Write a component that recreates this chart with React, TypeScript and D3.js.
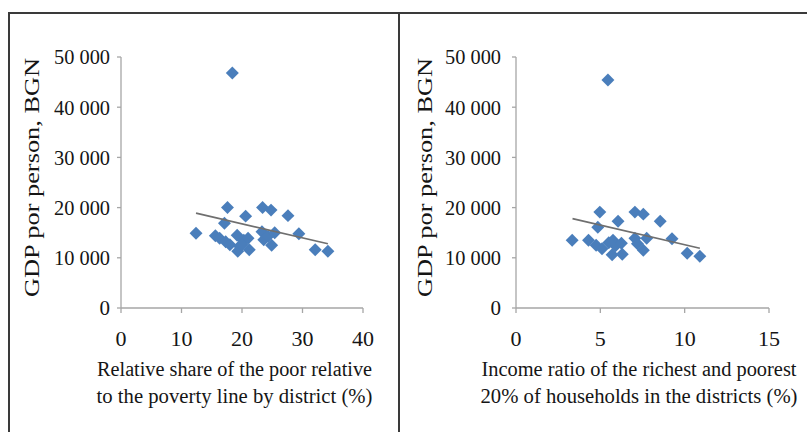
import React from "react";
import * as d3 from "d3";

const W = 807;
const H = 432;

// Left panel: share of the poor (%) vs GDP per person (BGN)
const povertyShare = [18.4, 12.4, 15.6, 16.3, 17.1, 17.6, 17.3, 18.0, 19.2, 19.6, 19.3, 20.3, 20.6, 21.0, 21.2, 23.4, 24.8, 23.3, 23.6, 24.3, 25.4, 24.9, 27.6, 29.4, 32.1, 34.2, 20.0];
const gdpByShare = [46800, 14900, 14400, 13900, 16900, 20000, 13200, 12600, 14500, 12300, 11300, 13500, 18300, 13900, 11600, 20000, 19500, 15200, 13600, 14300, 15000, 12500, 18400, 14800, 11600, 11300, 12600];
const shareTrendX = [12.4, 34.2];
const shareTrendY = [18900, 12800];

// Right panel: income ratio richest/poorest 20% vs GDP per person (BGN)
const incomeRatio = [5.45, 3.33, 4.97, 4.85, 4.3, 4.75, 5.1, 6.05, 5.75, 5.9, 5.7, 6.25, 6.3, 7.05, 7.55, 7.05, 7.2, 7.75, 7.55, 8.55, 9.25, 10.15, 10.9, 5.5];
const gdpByRatio = [45400, 13500, 19100, 16100, 13500, 12500, 11800, 17300, 13500, 12400, 10600, 12900, 10700, 19100, 18700, 13900, 12800, 13900, 11500, 17300, 13800, 10900, 10300, 13000];
const ratioTrendX = [3.35, 10.9];
const ratioTrendY = [17800, 11900];

const yTicks = [0, 10000, 20000, 30000, 40000, 50000];
const shareTicks = [0, 10, 20, 30, 40];
const ratioTicks = [0, 5, 10, 15];

const yLabel = "GDP por person, BGN";
const leftTitle = ["Relative share of the poor relative", "to the poverty line by district (%)"];
const rightTitle = ["Income ratio of the richest and poorest", "20% of households in the districts (%)"];

const FONT = "'Liberation Serif', 'Times New Roman', serif";
const AXIS = "#a6a6a6";
const TEXT = "#151515";
const MARK = "#4a7ebb";

const fmt = (v: number) => d3.format(",")(v).replace(/,/g, " ");

type PanelProps = {
  xs: number[];
  ys: number[];
  trendX: number[];
  trendY: number[];
  xTicks: number[];
  xDomain: [number, number];
  xRange: [number, number];
  yLabelX: number;
  yTickRight: number;
  title: string[];
  titleCenter: number;
  titleWidths: number[];
};

function Panel(p: PanelProps) {
  const x = d3.scaleLinear().domain(p.xDomain).range(p.xRange);
  const y = d3.scaleLinear().domain([0, 50000]).range([308, 57]);
  const x0 = p.xRange[0];
  const diamond = d3.symbol().type(d3.symbolSquare).size(84)();
  const trend = d3
    .line<number>()
    .x((_, i) => x(p.trendX[i]))
    .y((d) => y(d));
  return (
    <g>
      {/* axes */}
      <line x1={x0} x2={x0} y1={y(50000)} y2={y(0)} stroke={AXIS} strokeWidth={1.3} />
      <line x1={x0} x2={p.xRange[1]} y1={y(0)} y2={y(0)} stroke={AXIS} strokeWidth={1.3} />
      {yTicks.map((t) => (
        <g key={"y" + t}>
          <line x1={x0 - 4} x2={x0} y1={y(t)} y2={y(t)} stroke={AXIS} strokeWidth={1.3} />
          <text
            x={p.yTickRight}
            y={y(t)}
            dy="0.35em"
            textAnchor="end"
            fontFamily={FONT}
            fontSize={21}
            fill={TEXT}
            textLength={t === 0 ? undefined : 56}
            lengthAdjust="spacingAndGlyphs"
          >
            {fmt(t)}
          </text>
        </g>
      ))}
      {p.xTicks.map((t) => (
        <g key={"x" + t}>
          <line x1={x(t)} x2={x(t)} y1={y(0)} y2={y(0) + 5} stroke={AXIS} strokeWidth={1.3} />
          <text x={x(t)} y={346} textAnchor="middle" fontFamily={FONT} fontSize={22} fill={TEXT}>
            {t}
          </text>
        </g>
      ))}
      {/* y-axis title */}
      <text
        transform={`translate(${p.yLabelX},177.5) rotate(-90)`}
        textAnchor="middle"
        fontFamily={FONT}
        fontSize={22}
        fill={TEXT}
        textLength={239}
        lengthAdjust="spacingAndGlyphs"
      >
        {yLabel}
      </text>
      {/* x-axis title */}
      {p.title.map((line, i) => (
        <text
          key={i}
          x={p.titleCenter}
          y={376 + i * 27}
          textAnchor="middle"
          fontFamily={FONT}
          fontSize={20.5}
          fill={TEXT}
          textLength={p.titleWidths[i]}
          lengthAdjust="spacingAndGlyphs"
        >
          {line}
        </text>
      ))}
      {/* points */}
      {p.xs.map((v, i) => (
        <path
          key={"p" + i}
          d={diamond}
          transform={`translate(${x(v)},${y(p.ys[i])}) rotate(45)`}
          fill={MARK}
        />
      ))}
      {/* linear trend */}
      <path d={trend(p.trendY) || ""} fill="none" stroke="#6f6f6f" strokeWidth={1.7} />
    </g>
  );
}

export default function App() {
  return (
    <svg
      width={W}
      height={H}
      viewBox={`0 0 ${W} ${H}`}
      style={{ position: "absolute", left: 0, top: 0, background: "#fff" }}
    >
      <rect width={W} height={H} fill="#fff" />
      {/* frame */}
      <line x1={8} x2={W} y1={13} y2={13} stroke="#3a3a3a" strokeWidth={2} />
      <line x1={9} x2={9} y1={12} y2={H} stroke="#3a3a3a" strokeWidth={2} />
      <line x1={399} x2={399} y1={12} y2={H} stroke="#3a3a3a" strokeWidth={2} />
      <Panel
        xs={povertyShare}
        ys={gdpByShare}
        trendX={shareTrendX}
        trendY={shareTrendY}
        xTicks={shareTicks}
        xDomain={[0, 40]}
        xRange={[121, 363]}
        yLabelX={39}
        yTickRight={110}
        title={leftTitle}
        titleCenter={234.5}
        titleWidths={[275, 276]}
      />
      <Panel
        xs={incomeRatio}
        ys={gdpByRatio}
        trendX={ratioTrendX}
        trendY={ratioTrendY}
        xTicks={ratioTicks}
        xDomain={[0, 15]}
        xRange={[516, 769]}
        yLabelX={432}
        yTickRight={501}
        title={rightTitle}
        titleCenter={639}
        titleWidths={[315, 317]}
      />
    </svg>
  );
}
